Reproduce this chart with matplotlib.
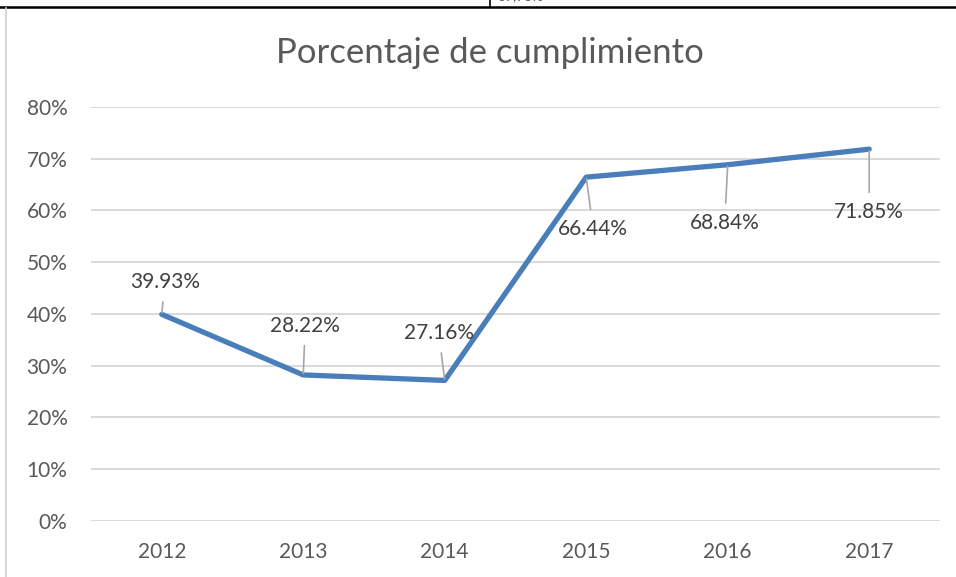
import matplotlib.pyplot as plt
from matplotlib.lines import Line2D

years = ["2012", "2013", "2014", "2015", "2016", "2017"]
values = [39.93, 28.22, 27.16, 66.44, 68.84, 71.85]
labels = ["39.93%", "28.22%", "27.16%", "66.44%", "68.84%", "71.85%"]
# label offsets from each point, in pixels
offsets = [(3, 32), (2, 49), (-6, 47), (7, -52), (-3, -58), (0, -63)]

plt.rcParams["font.family"] = ["Lato", "DejaVu Sans"]
gray = "#595959"

fig = plt.figure(figsize=(9.56, 5.77), dpi=100)
ax = fig.add_axes([0.0952, 0.0971, 0.888, 0.7175])

x = list(range(len(years)))
ax.plot(x, values, color="#4a7ebb", linewidth=3.8, solid_capstyle="round",
        solid_joinstyle="round", zorder=3)

for xi, v, lab, off in zip(x, values, labels, offsets):
    ax.annotate(lab, (xi, v), xytext=off, textcoords="offset pixels",
                ha="center", va="center", fontsize=15, color="#404040",
                arrowprops=dict(arrowstyle="-", color="#a6a6a6", lw=1.2,
                                shrinkA=5, shrinkB=1), zorder=4)

ax.set_xlim(-0.5, 5.5)
ax.set_ylim(0, 80)
ax.set_yticks(range(0, 81, 10))
ax.set_yticklabels([f"{t}%" for t in range(0, 81, 10)])
ax.set_xticks(x)
ax.set_xticklabels(years)
ax.tick_params(axis="both", length=0, labelsize=15, labelcolor=gray)
ax.tick_params(axis="y", pad=17)
ax.tick_params(axis="x", pad=15)
ax.grid(axis="y", color="#d9d9d9", linewidth=1.4)
ax.set_axisbelow(True)
for s in ax.spines.values():
    s.set_visible(False)

fig.text(0.513, 0.908, "Porcentaje de cumplimiento", ha="center", va="center",
         fontsize=25, color=gray)

# page border bits around the chart
fig.add_artist(Line2D([0, 1], [0.988, 0.988], color="black", lw=1.8))
fig.add_artist(Line2D([0.5125, 0.5125], [0.988, 1.0], color="black", lw=1.2))
fig.add_artist(Line2D([0.006, 0.006], [0, 0.986], color="#d0d0d0", lw=1.2))
fig.text(0.52, 1.006, "39,93%", ha="left", va="center", fontsize=10, color=gray)

fig.savefig("out.png", dpi=100)
